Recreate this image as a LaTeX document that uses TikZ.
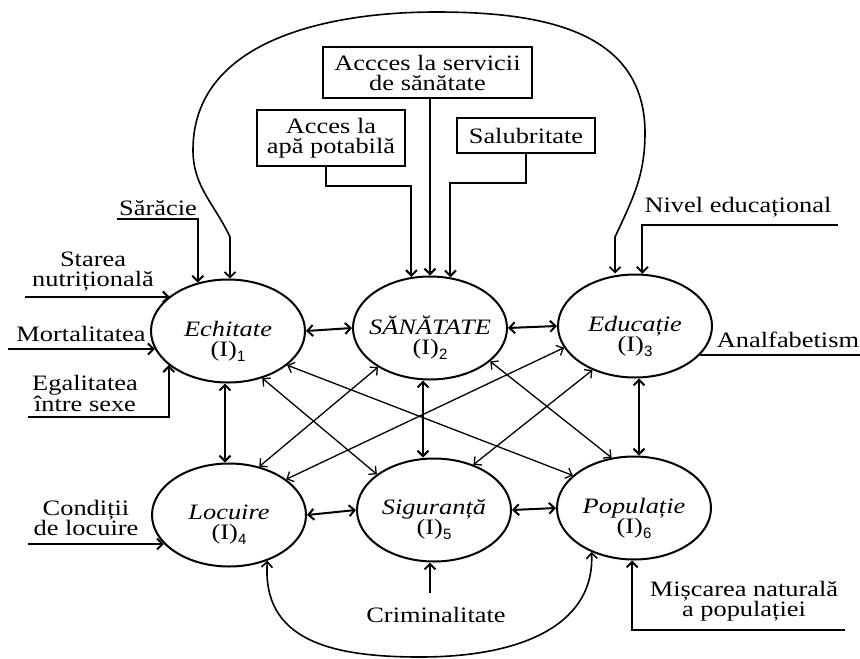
\documentclass[tikz,border=0pt]{standalone}
\usepackage{fontspec}
\setmainfont{Liberation Serif}[FakeStretch=1.2]
\newfontfamily\idxfont{Liberation Sans}
\newcommand{\idx}[1]{\raisebox{-5pt}{\idxfont\fontsize{15}{15}\selectfont #1}}
\usetikzlibrary{shapes.geometric,arrows.meta,calc}
\begin{document}
\begin{tikzpicture}[x=1pt,y=-1pt,
  >={Straight Barb[length=5.5pt,width=11pt]},
  every node/.style={font=\fontsize{22}{20}\selectfont, inner sep=0pt},
  ind/.style={ellipse, draw, line width=2pt, minimum width=154pt, minimum height=103pt},
  itxt/.style={align=center},
  box/.style={draw, line width=2.4pt, align=center},
  lbl/.style={align=center},
  link/.style={line width=2pt},
  thin link/.style={line width=1.3pt},
  feed/.style={line width=2pt},
  loopline/.style={line width=1.6pt},
]
\useasboundingbox (0,0) rectangle (860,659);

% indicator ellipses
\node[ind] (E1) at (228,331) {};
\node[ind] (E2) at (430,328) {};
\node[ind] (E3) at (635,326) {};
\node[ind] (E4) at (229,515) {};
\node[ind] (E5) at (434,510) {};
\node[ind] (E6) at (634,508) {};

\node[itxt] (T1) at ([yshift=-10pt]E1.center) {\textit{Echitate}\\(I)\idx{1}};
\node[itxt] (T2) at ([yshift=-10pt]E2.center) {\textit{SĂNĂTATE}\\(I)\idx{2}};
\node[itxt] (T3) at ([yshift=-10pt]E3.center) {\textit{Educație}\\(I)\idx{3}};
\node[itxt] (T4) at ([yshift=-10pt]E4.center) {\textit{Locuire}\\(I)\idx{4}};
\node[itxt] (T5) at ([yshift=-10pt]E5.center) {\textit{Siguranță}\\(I)\idx{5}};
\node[itxt] (T6) at ([yshift=-10pt]E6.center) {\textit{Populație}\\(I)\idx{6}};

% boxed health factors
\node[box, minimum width=209pt, minimum height=51pt] (B2) at (427.5,72.5) {Accces la servicii\\de sănătate};
\node[box, minimum width=148pt, minimum height=56pt] (B1) at (331,138) {Acces la\\apă potabilă};
\node[box, minimum width=138pt, minimum height=35pt] (B3) at (526,135.5) {Salubritate};

\draw[feed,->] (B2.south -| E2.north) -- (E2.north);
\draw[feed,->] ([xshift=-5pt]B1.south) -- ++(0,19) -| (E2.110);
\draw[feed,->] (B3.south) -- ++(0,29) -| (E2.68);

% links between the indicators
\draw[link,<->] (E1.east) -- (E2.west);
\draw[link,<->] (E2.east) -- (E3.west);
\draw[link,<->] (E4.east) -- (E5.west);
\draw[link,<->] (E5.east) -- (E6.west);
\draw[link,<->] ([xshift=-3pt]E1.south) -- ([xshift=-3pt]E1.south |- E4.north);
\draw[link,<->] ([xshift=-7pt]E2.south) -- ([xshift=-7pt]E2.south |- E5.north);
\draw[link,<->] ([xshift=4pt]E3.south) -- ([xshift=4pt]E3.south |- E6.north);

\draw[thin link,<->] (E1.-54) -- (E5.148);
\draw[thin link,<->] (E1.-30) -- (E6.152);
\draw[thin link,<->] (E2.217) -- (E4.58);
\draw[thin link,<->] (E3.197) -- (E4.32);
\draw[thin link,<->] (E2.-29) -- (E6.114);
\draw[thin link,<->] (E3.226) -- (E5.49);

% outer loops
\coordinate (arcL) at (230,237);
\coordinate (arcR) at (615,237);
\draw[loopline,<->] (arcL |- E1.north) -- (arcL)
  to[out=115,in=-90] (193,150)
  to[out=90,in=180] (436,12)
  to[out=0,in=90,looseness=1.1] (645,133)
  to[out=-90,in=65] (arcR) -- (arcR |- E3.north);
\draw[loopline,<->] (E4.-50) .. controls (262,640) and (330,657) .. (420,657)
  .. controls (530,657) and (595,620) .. (E6.226);

% external factors
\coordinate (sarS) at (117,219);
\coordinate (staS) at (25,297);
\coordinate (morS) at (8,349);
\coordinate (egaS) at (28,417);
\coordinate (nivS) at (838,225);
\coordinate (anaS) at (860,355);
\coordinate (conS) at (28,544);
\coordinate (crimS) at (430,593);
\coordinate (misS) at (845,630);

\draw[feed,->] (sarS) -| (E1.122);
\draw[feed,->] (staS) -- (staS -| E1.149);
\draw[feed,->] (morS) -- (morS -| E1.194);
\draw[feed,->] (egaS) -| (E1.210);
\draw[feed,->] (nivS) -| (E3.82);
\draw[feed] (anaS) -- (anaS -| E3.-24);
\draw[feed,->] (conS) -- (conS -| E4.204);
\draw[feed,->] (crimS) -- (crimS |- E5.south);
\draw[feed,->] (misS) -| (E6.268);

\node[lbl] (sar) at (158,208) {Sărăcie};
\node[lbl] (sta) at (93,272) {Starea\\nutrițională};
\node[lbl] (mor) at (81,334) {Mortalitatea};
\node[lbl] (ega) at (85,393) {Egalitatea\\între sexe};
\node[lbl] (niv) at (738,207) {Nivel educațional};
\node[lbl] (ana) at (788,340) {Analfabetism};
\node[lbl] (con) at (86,518) {Condiții\\de locuire};
\node[lbl] (crim) at (436,615) {Criminalitate};
\node[lbl] (mis) at (744,601) {Mișcarea naturală\\a populației};
\end{tikzpicture}
\end{document}
